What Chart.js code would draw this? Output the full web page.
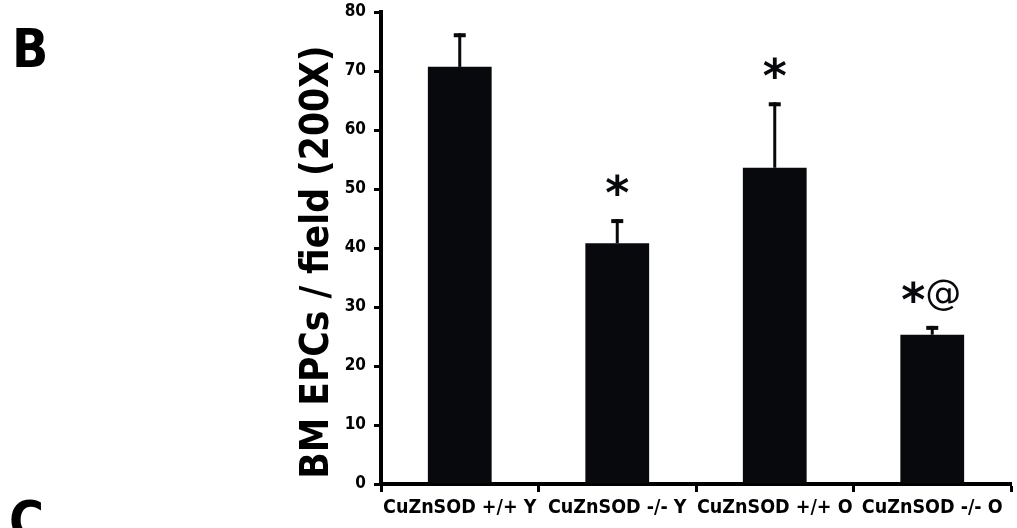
<!DOCTYPE html>
<html>
<head>
<meta charset="utf-8">
<script src="https://cdn.jsdelivr.net/npm/chart.js@4/dist/chart.umd.min.js"></script>
<style>
  html, body { margin: 0; padding: 0; background: #fff; }
  #wrap { position: relative; width: 1017px; height: 528px; }
</style>
</head>
<body>
<div id="wrap"><canvas id="c"></canvas></div>
<script>
// ---- data ----
const categories = ['CuZnSOD +/+ Y', 'CuZnSOD -/- Y', 'CuZnSOD +/+ O', 'CuZnSOD -/- O'];
const means = [70.7, 40.8, 53.6, 25.3];
const errors = [5.7, 4.1, 11.1, 1.5];
const marks = ['', '*', '*', '*@'];
const yTicks = [0, 10, 20, 30, 40, 50, 60, 70, 80];
const yTitle = 'BM EPCs / field (200X)';
const panelLetters = ['B', 'C'];

const FONT = "'DejaVu Sans Condensed', 'DejaVu Sans', sans-serif";

const extras = {
  id: 'extras',
  afterDatasetsDraw(chart) {
    const ctx = chart.ctx;
    const x = chart.scales.x, y = chart.scales.y;
    ctx.save();
    ctx.fillStyle = '#08090c';
    means.forEach((m, i) => {
      const cx = x.getPixelForValue(i);
      const yb = y.getPixelForValue(m);
      const yt = y.getPixelForValue(m + errors[i]);
      ctx.fillRect(cx - 1.5, yt, 3, yb - yt);
      ctx.fillRect(cx - 6, yt, 12, 4);
      const mk = marks[i];
      if (mk) {
        const sy = yt - 30;
        ctx.textBaseline = 'middle';
        ctx.textAlign = 'center';
        if (mk === '*') {
          ctx.font = "bold 46px 'DejaVu Sans', sans-serif";
          ctx.fillText('*', cx, sy + 8);
        } else {
          ctx.font = "bold 46px 'DejaVu Sans', sans-serif";
          ctx.fillText('*', cx - 19, sy + 8);
          ctx.font = "36px 'DejaVu Sans', sans-serif";
          ctx.fillText('@', cx + 11, sy);
        }
      }
    });
    // y axis title
    ctx.fillStyle = '#000';
    ctx.save();
    ctx.translate(318, 262);
    ctx.rotate(-Math.PI / 2);
    ctx.font = "bold 38.5px " + FONT;
    ctx.textAlign = 'center';
    ctx.textBaseline = 'middle';
    ctx.fillText(yTitle, 0, 0);
    ctx.restore();
    // panel letters
    ctx.font = "bold 53px " + FONT;
    ctx.textAlign = 'left';
    ctx.textBaseline = 'alphabetic';
    ctx.fillText(panelLetters[0], 12, 67);
    ctx.fillText(panelLetters[1], 9, 539);
    ctx.restore();
  }
};

new Chart(document.getElementById('c'), {
  type: 'bar',
  data: {
    labels: categories,
    datasets: [{
      data: means,
      backgroundColor: '#08090c',
      borderWidth: 0,
      categoryPercentage: 1.0,
      barPercentage: 0.405
    }]
  },
  options: {
    responsive: true,
    maintainAspectRatio: false,
    animation: false,
    events: [],
    layout: { padding: { top: 12, right: 6, left: 0, bottom: 0 } },
    plugins: { legend: { display: false }, tooltip: { enabled: false } },
    scales: {
      x: {
        afterFit(s) { s.height = 44; s.paddingLeft = 0; s.paddingRight = 0; },
        grid: {
          offset: true,
          drawOnChartArea: false,
          drawTicks: true,
          tickLength: 8,
          tickWidth: 3,
          tickColor: (c) => (c.index === categories.length ? 'rgba(0,0,0,0)' : '#000')
        },
        border: { display: true, color: '#000', width: 4 },
        ticks: {
          color: '#000',
          autoSkip: false,
          maxRotation: 0,
          padding: 4,
          font: { family: FONT, size: 19.5, weight: 'bold' }
        }
      },
      y: {
        min: 0, max: 80,
        afterFit(s) { s.width = 381; s.paddingTop = 0; s.paddingBottom = 0; },
        afterBuildTicks(s) { s.ticks = yTicks.map(v => ({ value: v })); },
        grid: {
          drawOnChartArea: false,
          drawTicks: true,
          tickLength: 7,
          tickWidth: 3,
          tickColor: '#000'
        },
        border: { display: true, color: '#000', width: 4 },
        ticks: {
          color: '#000',
          padding: 8,
          font: { family: FONT, size: 17, weight: 'bold' }
        },
        title: { display: false }
      }
    }
  },
  plugins: [extras]
});
</script>
</body>
</html>
